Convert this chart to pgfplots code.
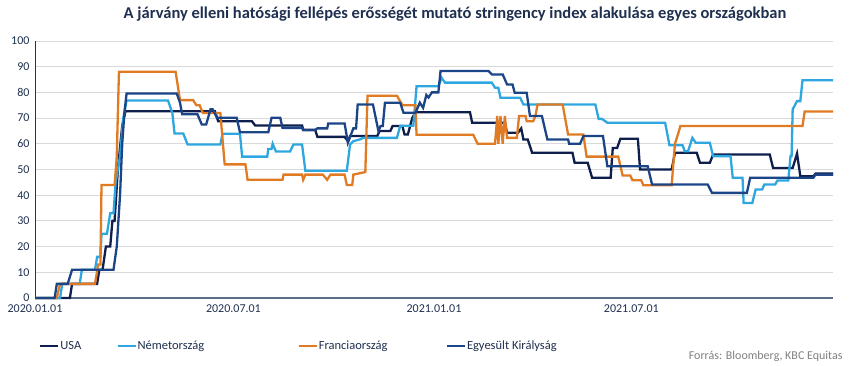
\documentclass[border=0pt]{standalone}
\usepackage{pgfplots}
\pgfplotsset{compat=1.18}
\usepackage{fontspec}
\setmainfont{Carlito}
\definecolor{usa}{HTML}{0E1F4D}
\definecolor{ger}{HTML}{2EA7E0}
\definecolor{fra}{HTML}{E07B24}
\definecolor{uk}{HTML}{1C4587}
\definecolor{gridgray}{HTML}{D9D9D9}
\definecolor{axisblue}{HTML}{5B6F86}
\definecolor{titlecol}{HTML}{1F2F4F}
\definecolor{srcgray}{HTML}{808080}
\begin{document}
\begin{tikzpicture}[x=1pt,y=1pt]
\path[use as bounding box] (0,0) rectangle (850,366);
\begin{axis}[
  at={(35pt,68pt)}, anchor=south west,
  scale only axis, width=798pt, height=257pt,
  xmin=0, xmax=732, ymin=0, ymax=100,
  xtick={0,182,366,547},
  xticklabels={2020.01.01,2020.07.01,2021.01.01,2021.07.01},
  ytick={0,10,...,100},
  ymajorgrids, grid style={color=gridgray, line width=0.9pt},
  axis lines=left, axis line style={-},
  x axis line style={color=axisblue, line width=1.6pt},
  y axis line style={color=black!80, line width=0.7pt},
  major tick length=0pt,
  /pgf/number format/assume math mode=true,
  tick label style={font=\fontsize{12}{14}\selectfont, text=titlecol},
  xticklabel style={yshift=-3pt},
  yticklabel style={xshift=-2pt},
  clip=false,
  legend columns=4,
  legend style={at={(axis description cs:0.001,-0.187)}, anchor=west, draw=none, fill=none,
    font=\fontsize{12.5}{14}\selectfont, text=titlecol, column sep=0pt, nodes={inner sep=0.8pt}},
  legend image code/.code={\draw[#1, line width=2.6pt] (0pt,0pt) -- (18pt,0pt);},
]
\addplot[usa, line width=2.3pt] coordinates {
(0,0)(32,0)(34,5.5)(57,5.5)(59,11)(62,11)(65,20)(69,20)(71,30)(73,30)(76,50)(80,67)(83,72.7)(165,72.7)(168,68.8)(199,68.8)(202,67.1)(245,67.1)(246,65.5)(257,65.5)(259,62.7)(284,62.7)(287,61)(289,63)(314,63)(316,65)(326,65)(328,66.9)(337,66.9)(339,63.6)(342,63.6)(346,70)(349,72.3)(399,72.3)(401,68.2)(431,68.2)(433,64.3)(443,64.3)(446,66)(448,61.7)(452,61.7)(456,56.5)(493,56.5)(495,52.6)(507,52.6)(511,46.8)(528,46.8)(530,58.4)(534,58.4)(537,62)(553,62)(555,50)(584,50)(587,56.5)(607,56.5)(610,52.6)(619,52.6)(622,55.8)(674,55.8)(677,50.6)(695,50.6)(699,56.2)(702,47.4)(714,47.4)(716,48.4)(732,48.4)
};
\addlegendentry{\makebox[55pt][l]{USA}}
\addplot[ger, line width=2.3pt] coordinates {
(0,0)(23,0)(25,5.5)(41,5.5)(43,11)(55,11)(57,16)(60,16)(61,25)(66,25)(69,33)(72,33)(74,45)(78,55)(81,70)(84,76.85)(122,76.85)(126,72)(128,64)(136,64)(140,59.7)(170,59.7)(172,63.9)(188,63.9)(190,55)(213,55)(214,58)(217,58)(218,60)(221,57)(234,57)(237,59.7)(245,59.7)(248,49.5)(286,49.5)(289,59.7)(292,61)(298,61.7)(301,62.3)(332,62.3)(335,67)(347,67)(350,82.4)(370,82.4)(373,85.7)(376,83.8)(419,83.8)(422,81.8)(425,81.8)(427,77.9)(445,77.9)(448,75.3)(514,75.3)(517,69.7)(520,69.7)(525,68.2)(578,68.2)(582,59.4)(594,59.4)(596,57.1)(599,57.1)(603,62.3)(606,60.4)(619,60.4)(622,55.2)(638,55.2)(640,46.8)(649,46.8)(650,37)(658,37)(661,42.2)(667,42.2)(669,44.2)(679,44.2)(681,45.7)(691,45.7)(693,55.2)(694,55.2)(695,73.4)(699,76.6)(702,76.6)(704,84.7)(732,84.7)
};
\addlegendentry{\makebox[159pt][l]{Németország}}
\addplot[fra, line width=2.3pt] coordinates {
(0,0)(20,0)(23,5.5)(55,5.5)(58,13)(60,13)(61,44)(73,44)(75,55)(77,88)(129,88)(133,77)(145,77)(148,75)(151,75)(154,72)(170,72)(174,52)(193,52)(195,46)(227,46)(228,48)(245,48)(246,46)(248,48)(264,48)(268,46)(271,48)(284,48)(286,44)(291,44)(292,48)(303,49)(305,78.7)(332,78.7)(337,75)(349,75)(350,63.5)(402,63.5)(406,60)(422,60)(424,70.8)(425,60)(427,70.8)(429,60)(431,70.8)(433,62.3)(442,62.3)(444,70.8)(450,70.8)(451,68.8)(457,68.8)(459,70.8)(461,75.3)(484,75.3)(489,63.6)(503,63.6)(506,55)(535,55)(539,47.7)(546,47.7)(548,45.8)(556,45.8)(558,43.9)(584,43.9)(587,60)(590,64)(592,66.9)(704,66.9)(706,72.6)(732,72.6)
};
\addlegendentry{\makebox[126pt][l]{Franciaország}}
\addplot[uk, line width=2.3pt] coordinates {
(0,0)(18,0)(20,5.5)(30,5.5)(34,11)(72,11)(75,20)(78,40)(80,60)(82,72)(84,79.6)(130,79.6)(133,76)(135,71.5)(149,71.5)(153,67.5)(157,67.5)(161,73.4)(163,73.4)(167,70.1)(185,70.1)(188,64.5)(214,64.5)(217,70.1)(225,70.1)(227,66.2)(245,66.2)(246,65.3)(257,65.3)(259,66)(268,66)(269,67.9)(284,67.9)(287,60.4)(292,66)(294.5,66)(296,75.3)(310,75.3)(315,65)(317,66.9)(319,66.9)(321,76)(335,76)(338,72.1)(349,72.1)(353,76)(356,74)(359,79)(361,78)(364,80)(370,80)(372,88.3)(416,88.3)(419,87)(429,87)(433,83.1)(438,83.1)(440,79.9)(451,79.9)(454,70.8)(465,70.8)(470,61.7)(489,61.7)(490,60)(500,60)(503,63)(521,63)(525,51.3)(562,51.3)(566,44.2)(617,44.2)(621,40.9)(653,40.9)(656,46.8)(714,46.8)(716,48)(732,48)
};
\addlegendentry{Egyesült Királyság}
\end{axis}
\node[font=\bfseries\fontsize{16.5}{18}\selectfont, text=titlecol] at (455,352) {A járvány elleni hatósági fellépés erősségét mutató stringency index alakulása egyes országokban};
\node[anchor=east, font=\fontsize{12}{14}\selectfont, text=srcgray] at (846,10) {Forrás: Bloomberg, KBC Equitas};
\end{tikzpicture}
\end{document}
